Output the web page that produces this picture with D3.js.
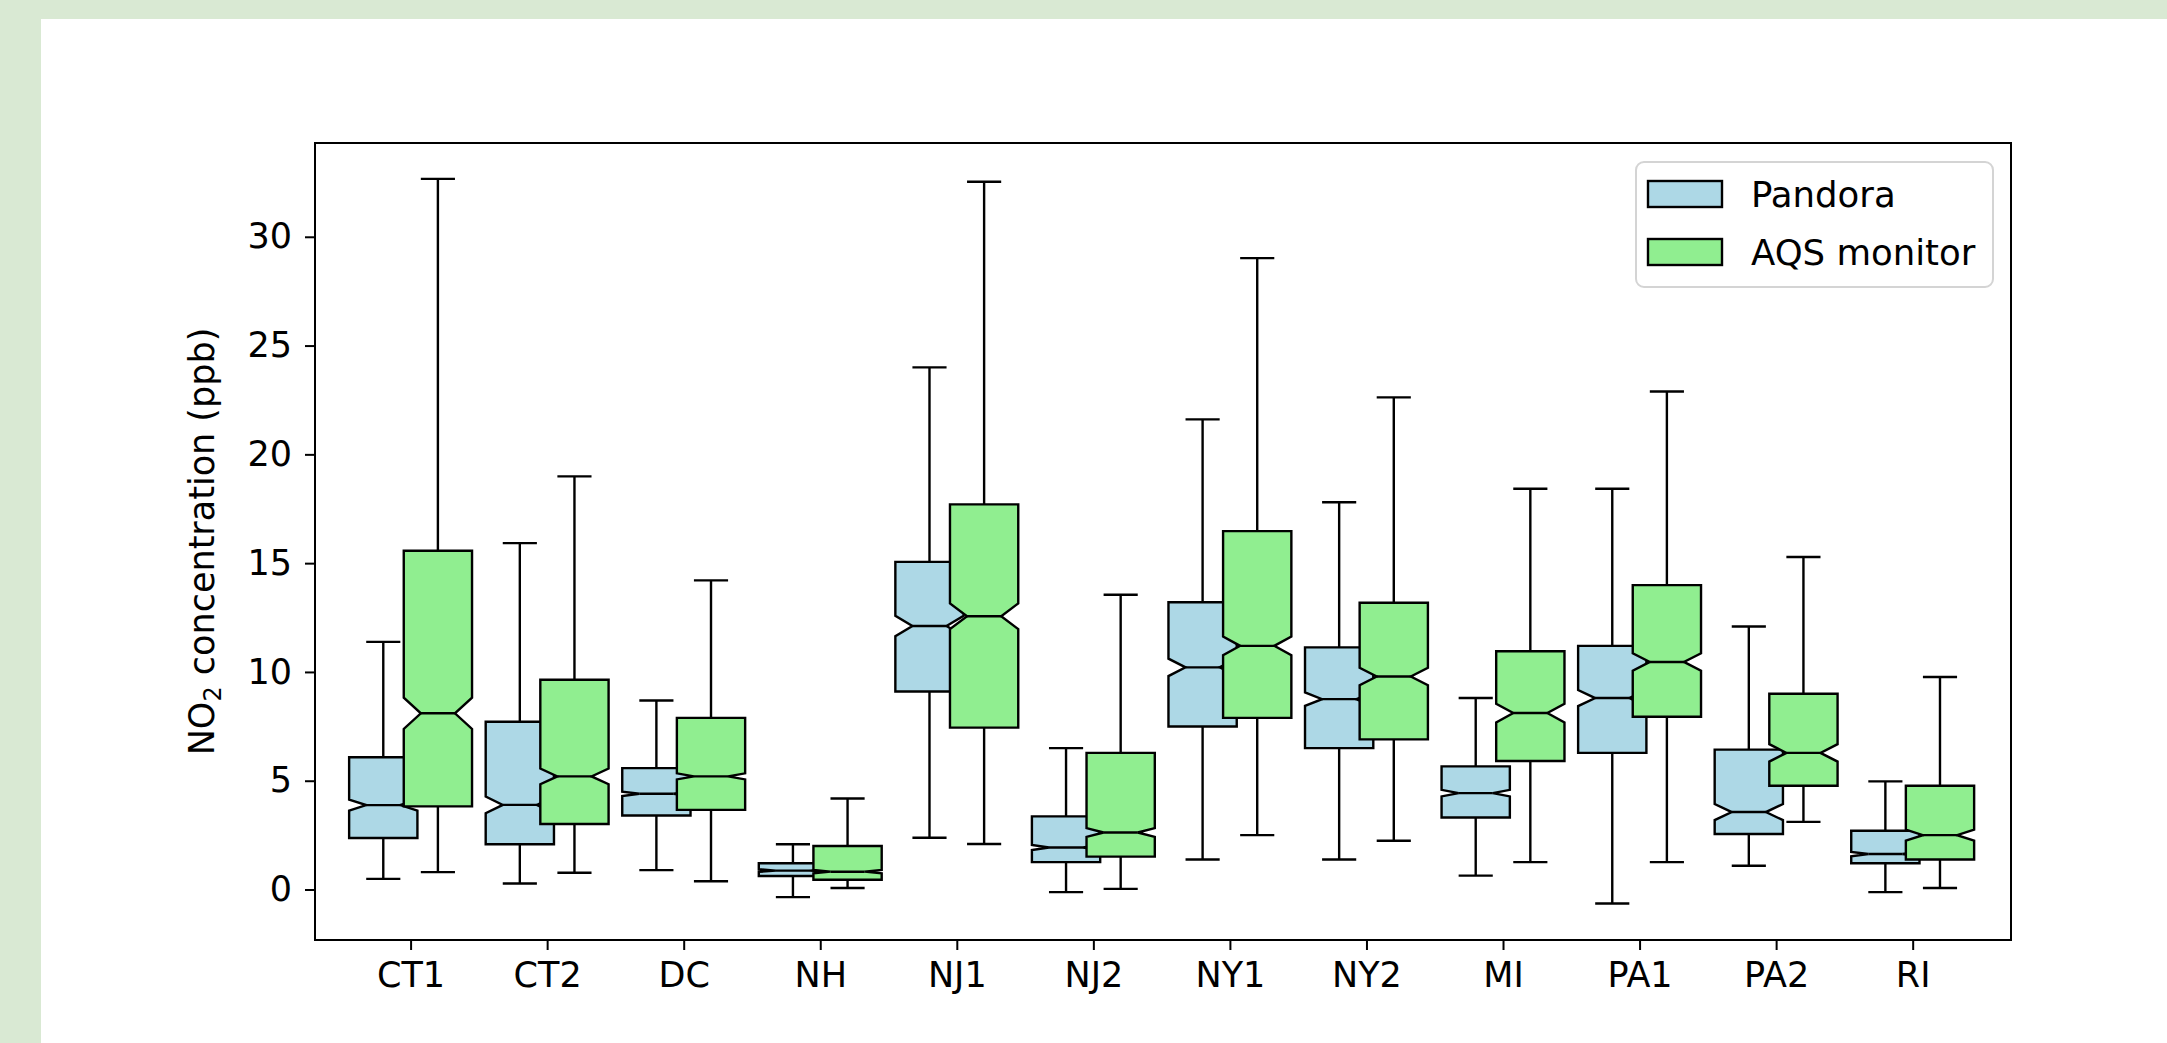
<!DOCTYPE html>
<html>
<head>
<meta charset="utf-8">
<script src="https://cdn.jsdelivr.net/npm/d3@7"></script>
<style>
  body { margin: 0; background: #ffffff; }
  svg text { font-family: "DejaVu Sans", sans-serif; fill: #000; }
</style>
</head>
<body>
<div id="chart"></div>
<script>
var svgWidth = 2167;
var svgHeight = 1043;

var margin = { top: 143, right: 156, bottom: 103, left: 315 };
var width = svgWidth - margin.left - margin.right;
var height = svgHeight - margin.top - margin.bottom;

// sites along the x axis
var sites = ["CT1", "CT2", "DC", "NH", "NJ1", "NJ2", "NY1", "NY2", "MI", "PA1", "PA2", "RI"];
var yTicks = [0, 5, 10, 15, 20, 25, 30];
var seriesNames = ["Pandora", "AQS monitor"];
var seriesColors = ["#add8e6", "#90ee90"];

// Pandora box stats (ppb)
var pandoraLow = [0.49, 0.28, 0.89, -0.35, 2.38, -0.12, 1.38, 1.38, 0.64, -0.64, 1.09, -0.12];
var pandoraQ1 = [2.37, 2.08, 3.40, 0.62, 9.10, 1.26, 7.49, 6.50, 3.31, 6.28, 2.55, 1.21];
var pandoraMed = [3.88, 3.89, 4.40, 0.87, 12.11, 1.93, 10.21, 8.75, 4.43, 8.80, 3.56, 1.63];
var pandoraQ3 = [6.08, 7.71, 5.58, 1.21, 15.06, 3.36, 13.20, 11.13, 5.66, 11.20, 6.43, 2.70];
var pandoraHigh = [11.38, 15.92, 8.69, 2.08, 24.00, 6.50, 21.61, 17.80, 8.80, 18.42, 12.09, 4.97];
var pandoraNotch = [0.25, 0.38, 0.10, 0.06, 0.47, 0.12, 0.40, 0.31, 0.15, 0.37, 0.37, 0.10];

// AQS monitor box stats (ppb)
var aqsLow = [0.80, 0.77, 0.38, 0.07, 2.09, 0.03, 2.50, 2.24, 1.26, 1.26, 3.11, 0.07];
var aqsQ1 = [3.82, 3.01, 3.66, 0.45, 7.44, 1.51, 7.89, 6.90, 5.91, 7.94, 4.77, 1.38];
var aqsMed = [8.10, 5.20, 5.20, 0.82, 12.56, 2.62, 11.20, 9.79, 8.11, 10.46, 6.28, 2.50];
var aqsQ3 = [15.57, 9.64, 7.89, 2.00, 17.70, 6.28, 16.47, 13.18, 10.95, 13.99, 9.00, 4.77];
var aqsHigh = [32.66, 18.99, 14.21, 4.18, 32.53, 13.55, 29.02, 22.62, 18.42, 22.89, 15.28, 9.77];
var aqsNotch = [0.72, 0.36, 0.14, 0.08, 0.59, 0.20, 0.43, 0.40, 0.43, 0.40, 0.40, 0.25];

var boxOffset = 0.2;
var boxWidth = 0.5;
var lineW = 2.4;

function buildStats(low, q1, med, q3, high, notch) {
    return sites.map(function(s, i) {
        return { site: s, pos: i + 1, low: low[i], q1: q1[i], med: med[i], q3: q3[i], high: high[i], notch: notch[i] };
    });
}

var series = [
    { name: seriesNames[0], color: seriesColors[0], offset: -boxOffset,
      stats: buildStats(pandoraLow, pandoraQ1, pandoraMed, pandoraQ3, pandoraHigh, pandoraNotch) },
    { name: seriesNames[1], color: seriesColors[1], offset: boxOffset,
      stats: buildStats(aqsLow, aqsQ1, aqsMed, aqsQ3, aqsHigh, aqsNotch) }
];

var svg = d3.select("#chart").append("svg")
    .attr("width", svgWidth)
    .attr("height", svgHeight);

// page background: light green border with white card
svg.append("rect").attr("width", svgWidth).attr("height", svgHeight).attr("fill", "#d9e9d3");
svg.append("rect").attr("x", 41).attr("y", 19)
    .attr("width", svgWidth - 41).attr("height", svgHeight - 19).attr("fill", "#ffffff");

var chartGroup = svg.append("g")
    .attr("transform", `translate(${margin.left}, ${margin.top})`);

var x = d3.scaleLinear().domain([0.3, 12.72]).range([0, width]);
var y = d3.scaleLinear().domain([-2.32, 34.31]).range([height, 0]);

// axes
var leftAxis = d3.axisLeft(y).tickValues(yTicks).tickSize(10).tickPadding(13);
var bottomAxis = d3.axisBottom(x).tickValues(d3.range(1, sites.length + 1))
    .tickFormat(function(d) { return sites[d - 1]; })
    .tickSize(10).tickPadding(12);

var yAxisG = chartGroup.append("g").call(leftAxis);
var xAxisG = chartGroup.append("g").attr("transform", `translate(0, ${height})`).call(bottomAxis);
[yAxisG, xAxisG].forEach(function(g) {
    g.select(".domain").remove();
    g.selectAll(".tick line").attr("stroke", "#000").attr("stroke-width", 2);
    g.selectAll(".tick text").attr("font-size", 35).attr("font-family", "DejaVu Sans");
});

// boxes
series.forEach(function(ser) {
    var g = chartGroup.append("g");
    ser.stats.forEach(function(d) {
        var c = d.pos + ser.offset;
        var bl = x(c - boxWidth / 2), br = x(c + boxWidth / 2);
        var nl = x(c - boxWidth / 4), nr = x(c + boxWidth / 4);
        var capL = x(c - boxWidth / 4), capR = x(c + boxWidth / 4);
        var cx = x(c);
        var cilo = d.med - d.notch, cihi = d.med + d.notch;

        // whiskers and caps
        g.append("line").attr("x1", cx).attr("x2", cx).attr("y1", y(d.q1)).attr("y2", y(d.low))
            .attr("stroke", "#000").attr("stroke-width", lineW);
        g.append("line").attr("x1", cx).attr("x2", cx).attr("y1", y(d.q3)).attr("y2", y(d.high))
            .attr("stroke", "#000").attr("stroke-width", lineW);
        g.append("line").attr("x1", capL).attr("x2", capR).attr("y1", y(d.low)).attr("y2", y(d.low))
            .attr("stroke", "#000").attr("stroke-width", lineW);
        g.append("line").attr("x1", capL).attr("x2", capR).attr("y1", y(d.high)).attr("y2", y(d.high))
            .attr("stroke", "#000").attr("stroke-width", lineW);

        // notched box
        var pts = [
            [bl, y(d.q1)], [br, y(d.q1)], [br, y(cilo)], [nr, y(d.med)], [br, y(cihi)],
            [br, y(d.q3)], [bl, y(d.q3)], [bl, y(cihi)], [nl, y(d.med)], [bl, y(cilo)]
        ];
        g.append("path")
            .attr("d", d3.line()(pts) + "Z")
            .attr("fill", ser.color)
            .attr("stroke", "#000")
            .attr("stroke-width", lineW)
            .attr("stroke-linejoin", "miter");

        // median
        g.append("line").attr("x1", nl).attr("x2", nr).attr("y1", y(d.med)).attr("y2", y(d.med))
            .attr("stroke", "#000").attr("stroke-width", lineW);
    });
});

// frame
chartGroup.append("rect")
    .attr("width", width).attr("height", height)
    .attr("fill", "none").attr("stroke", "#000").attr("stroke-width", 2);

// y label with subscript
var yLabel = svg.append("text")
    .attr("transform", `translate(214, ${margin.top + height / 2}) rotate(-90)`)
    .attr("text-anchor", "middle")
    .attr("font-size", 35);
yLabel.append("tspan").text("NO");
yLabel.append("tspan").attr("font-size", 24).attr("dy", 7).text("2");
yLabel.append("tspan").attr("dy", -7).text(" concentration (ppb)");

// legend
var legend = chartGroup.append("g")
    .attr("transform", `translate(${width - 375}, 19)`);
legend.append("rect")
    .attr("width", 357).attr("height", 125).attr("rx", 8)
    .attr("fill", "#ffffff").attr("fill-opacity", 0.8)
    .attr("stroke", "#d4d4d4").attr("stroke-width", 2);
seriesNames.forEach(function(name, i) {
    var row = legend.append("g").attr("transform", `translate(12, ${19 + i * 58})`);
    row.append("rect").attr("width", 74).attr("height", 26)
        .attr("fill", seriesColors[i]).attr("stroke", "#000").attr("stroke-width", lineW);
    row.append("text").attr("x", 103).attr("y", 13).attr("dy", "0.36em")
        .attr("font-size", 35.5).text(name);
});
</script>
</body>
</html>
